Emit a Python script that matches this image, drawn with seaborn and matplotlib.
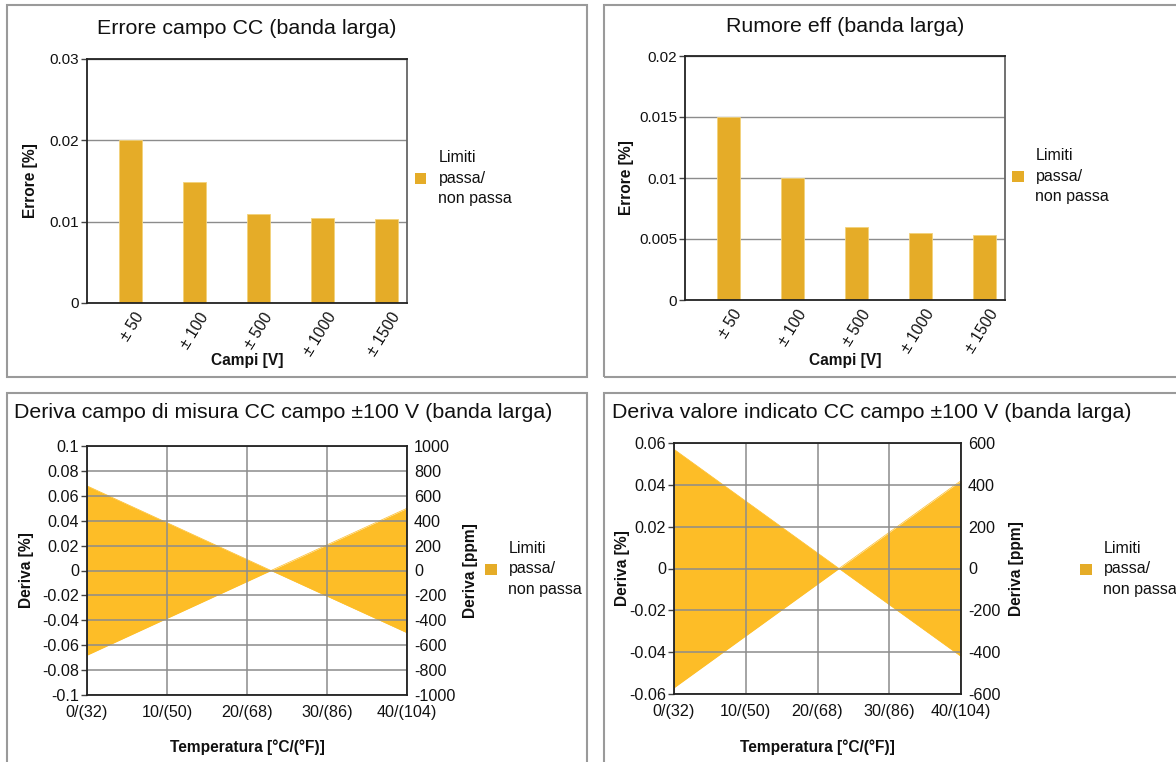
import matplotlib
matplotlib.use("Agg")
import matplotlib.pyplot as plt
from matplotlib.patches import Rectangle, Patch
import seaborn as sns
import numpy as np

# ---------------- data ----------------
ranges = ["± 50", "± 100", "± 500", "± 1000", "± 1500"]
dc_error = [0.0200, 0.0149, 0.0110, 0.0105, 0.0103]
rms_noise = [0.0150, 0.0100, 0.0060, 0.0055, 0.0053]

temps_c = [0, 23, 40]
drift_range_limit = [0.068, 0.0, 0.050]      # % at each temperature
drift_reading_limit = [0.057, 0.0, 0.042]    # % at each temperature

temp_ticks = [0, 10, 20, 30, 40]
temp_labels = ["0/(32)", "10/(50)", "20/(68)", "30/(86)", "40/(104)"]

err_ticks = [0, 0.01, 0.02, 0.03]
err_labels = ["0", "0.01", "0.02", "0.03"]
noise_ticks = [0, 0.005, 0.01, 0.015, 0.02]
noise_labels = ["0", "0.005", "0.01", "0.015", "0.02"]

drift1_ticks = [-0.1, -0.08, -0.06, -0.04, -0.02, 0, 0.02, 0.04, 0.06, 0.08, 0.1]
drift1_labels = ["-0.1", "-0.08", "-0.06", "-0.04", "-0.02", "0", "0.02", "0.04", "0.06", "0.08", "0.1"]
drift1_ppm = ["-1000", "-800", "-600", "-400", "-200", "0", "200", "400", "600", "800", "1000"]
drift2_ticks = [-0.06, -0.04, -0.02, 0, 0.02, 0.04, 0.06]
drift2_labels = ["-0.06", "-0.04", "-0.02", "0", "0.02", "0.04", "0.06"]
drift2_ppm = ["-600", "-400", "-200", "0", "200", "400", "600"]

legend_label = "Limiti\npassa/\nnon passa"

# ---------------- style ----------------
sns.set_theme(style="white")
plt.rcParams["font.family"] = ["Liberation Sans", "DejaVu Sans"]

BAR = "#E5AC28"
BAND = "#FDBD27"
GRID = "#8c8c8c"
FRAME = "#9a9a9a"
TITLE_FS = 15.4
LAB_FS = 11.2
LEG_FS = 11.5

W, H = 1176, 762
fig = plt.figure(figsize=(W / 100, H / 100), dpi=100)


def ax_rect(x0, y0, x1, y1):
    return [x0 / W, 1 - y1 / H, (x1 - x0) / W, (y1 - y0) / H]


def fx(x):
    return x / W


def fy(y):
    return 1 - y / H


# panel frames
for (x0, y0, x1, y1) in [(7, 5, 587, 377), (604, 5, 1180, 377),
                         (7, 393, 587, 770), (604, 393, 1180, 770)]:
    fig.add_artist(Rectangle((fx(x0), fy(y1)), (x1 - x0) / W, (y1 - y0) / H,
                             transform=fig.transFigure, fill=False,
                             ec=FRAME, lw=1.5))


def style_axes(ax, right_color="#222222"):
    for name, s in ax.spines.items():
        s.set_color("#222222")
        s.set_linewidth(1.3)
        s.set_visible(True)
        s.set_zorder(4)
    ax.spines["right"].set_color(right_color)


def add_legend(ax, x, y):
    h = Patch(facecolor=BAR, edgecolor="none")
    leg = ax.legend([h], [legend_label], loc="center left",
                    bbox_to_anchor=(fx(x), fy(y)),
                    bbox_transform=fig.transFigure, frameon=False,
                    fontsize=LEG_FS, handlelength=0.72, handleheight=0.72,
                    handletextpad=0.75, borderpad=0, borderaxespad=0)
    for t in leg.get_texts():
        t.set_linespacing(1.45)
        t.set_color("#111111")
    return leg


# ---------------- bar panels ----------------
BAR_W = 0.36


def bar_panel(rect, vals, ticks, labels, title, tx, ty, ylx, xly, legx, legy):
    ax = fig.add_axes(rect)
    sns.barplot(x=ranges, y=vals, color=BAR, saturation=1, width=BAR_W, ax=ax)
    # bars sit just to the right of each category centre, as in the original
    for p in ax.patches:
        p.set_x(p.get_x() + BAR_W / 2)
        p.set_edgecolor("#F3D27A")
        p.set_linewidth(0.6)
    ax.set_xlim(-0.5, len(ranges) - 0.5)
    ax.set_ylim(ticks[0], ticks[-1])
    ax.set_yticks(ticks)
    ax.set_yticklabels(labels)
    ax.yaxis.grid(True, color=GRID, lw=1)
    ax.set_axisbelow(True)
    ax.set_xticks(np.arange(len(ranges)) + BAR_W / 2 + 0.06)
    ax.set_xticklabels(ranges, rotation=58, ha="right", rotation_mode="anchor")
    style_axes(ax, right_color="#666666")
    ax.tick_params(axis="x", length=0, pad=5, labelsize=11.3, colors="#111111")
    ax.tick_params(axis="y", length=4, width=1, direction="out", color="#444444",
                   pad=1.5, labelsize=11, colors="#111111", left=True)
    ax.set_xlabel("")
    ax.set_ylabel("")
    fig.text(tx, ty, title, ha="center", va="center", fontsize=TITLE_FS, color="#111111")
    fig.text(ylx, (rect[1] + rect[3] / 2), "Errore [%]", rotation=90,
             ha="center", va="center", fontsize=LAB_FS, fontweight="bold", color="#111111")
    fig.text(rect[0] + rect[2] / 2, xly, "Campi [V]", ha="center", va="center",
             fontsize=LAB_FS, fontweight="bold", color="#111111")
    add_legend(ax, legx, legy)
    return ax


bar_panel(ax_rect(87, 59, 407, 303), dc_error, err_ticks, err_labels,
          "Errore campo CC (banda larga)", fx(247), fy(28), fx(31), fy(361),
          415, 178)
bar_panel(ax_rect(685, 56, 1005, 300), rms_noise, noise_ticks, noise_labels,
          "Rumore eff (banda larga)", fx(845), fy(27), fx(627), fy(361),
          1012, 176)


# ---------------- drift panels ----------------
def drift_panel(rect, limit, ticks, labels, ppm, title, tx, ty, ylx, yrx, xly, legx, legy):
    ax = fig.add_axes(rect)
    lim = np.array(limit)
    upper = list(lim)
    lower = list(-lim)
    sns.lineplot(x=temps_c, y=upper, color=BAND, lw=0.5, ax=ax)
    sns.lineplot(x=temps_c, y=lower, color=BAND, lw=0.5, ax=ax)
    ax.fill_between(temps_c, lower, upper, color=BAND, lw=0, zorder=2)
    ax.set_xlim(temp_ticks[0], temp_ticks[-1])
    ax.set_ylim(ticks[0], ticks[-1])
    ax.set_yticks(ticks)
    ax.set_yticklabels(labels)
    ax.set_xticks(temp_ticks)
    ax.set_xticklabels(temp_labels)
    ax.grid(True, color=GRID, lw=1.1)
    ax.set_axisbelow(False)
    style_axes(ax)
    ax.tick_params(axis="x", length=0, pad=7, labelsize=11.6, colors="#111111")
    ax.tick_params(axis="y", length=4, width=1, direction="out", color="#444444",
                   pad=1.5, labelsize=11.6, colors="#111111", left=True)
    ax.set_xlabel("")
    ax.set_ylabel("")
    ax2 = ax.twinx()
    ax2.set_ylim(ticks[0], ticks[-1])
    ax2.set_yticks(ticks)
    ax2.set_yticklabels(ppm)
    ax2.grid(False)
    for s in ax2.spines.values():
        s.set_visible(False)
    ax2.tick_params(axis="y", length=0, labelsize=11.6, colors="#111111", pad=5)
    fig.text(tx, ty, title, ha="left", va="center", fontsize=TITLE_FS, color="#111111")
    fig.text(ylx, rect[1] + rect[3] / 2, "Deriva [%]", rotation=90,
             ha="center", va="center", fontsize=LAB_FS, fontweight="bold", color="#111111")
    fig.text(yrx, rect[1] + rect[3] / 2, "Deriva [ppm]", rotation=90,
             ha="center", va="center", fontsize=LAB_FS, fontweight="bold", color="#111111")
    fig.text(rect[0] + rect[2] / 2, xly, "Temperatura [°C/(°F)]", ha="center",
             va="center", fontsize=LAB_FS, fontweight="bold", color="#111111")
    add_legend(ax2, legx, legy)
    return ax


drift_panel(ax_rect(87, 446, 407, 695), drift_range_limit, drift1_ticks,
            drift1_labels, drift1_ppm,
            "Deriva campo di misura CC campo ±100 V (banda larga)",
            fx(14), fy(413), fx(27), fx(471), fy(747), 485, 569)
drift_panel(ax_rect(674, 443, 961, 694), drift_reading_limit, drift2_ticks,
            drift2_labels, drift2_ppm,
            "Deriva valore indicato CC campo ±100 V (banda larga)",
            fx(612), fy(413), fx(622), fx(1017), fy(747), 1080, 569)

fig.savefig("out.png", dpi=100)
